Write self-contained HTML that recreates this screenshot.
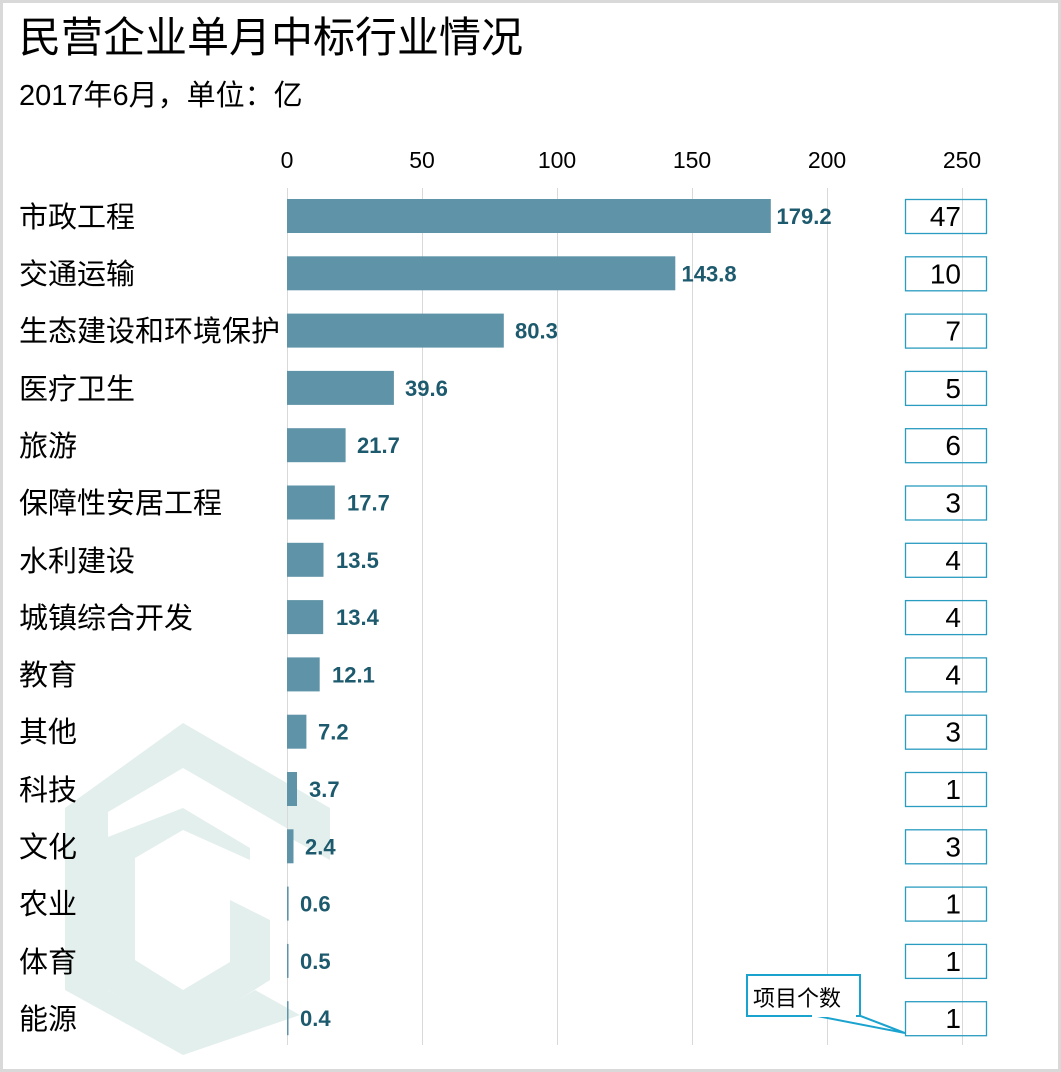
<!DOCTYPE html>
<html><head><meta charset="utf-8"><style>
html,body{margin:0;padding:0;background:#fff}
svg{display:block}
</style></head><body>
<svg width="1061" height="1072" xmlns="http://www.w3.org/2000/svg" font-family="Liberation Sans, Noto Sans CJK SC, sans-serif">
<rect x="1.5" y="1.5" width="1058" height="1069" fill="#fff" stroke="#d9d9d9" stroke-width="3"/>
<g fill="#e3efec">
<polygon points="183,723 330,808 330,860 290,838 290,830 183,768 108,812 108,990 183,1033 255,990 300,1015 183,1055 65,990 65,808"/>
<polygon points="183,808 250,848 250,860 183,830 135,858 135,960 183,990 230,962 230,900 270,920 270,980 183,1035 100,985 100,840"/>
</g>
<text x="19" y="52" font-size="42" fill="#000">民营企业单月中标行业情况</text>
<text x="19" y="105" font-size="29" fill="#000">2017年6月，单位：亿</text>
<g font-size="23" fill="#000" text-anchor="middle">
<text x="287" y="168">0</text><text x="422" y="168">50</text><text x="557" y="168">100</text><text x="692" y="168">150</text><text x="827" y="168">200</text><text x="962" y="168">250</text>
</g>
<g stroke="#d9d9d9" stroke-width="1">
<line x1="287.5" y1="188" x2="287.5" y2="1045"/><line x1="422.5" y1="188" x2="422.5" y2="1045"/><line x1="557.5" y1="188" x2="557.5" y2="1045"/><line x1="692.5" y1="188" x2="692.5" y2="1045"/><line x1="827.5" y1="188" x2="827.5" y2="1045"/><line x1="962.5" y1="188" x2="962.5" y2="1045"/>
</g>
<g font-size="29" fill="#000">
<text x="19" y="227">市政工程</text>
<text x="19" y="284">交通运输</text>
<text x="19" y="341">生态建设和环境保护</text>
<text x="19" y="399">医疗卫生</text>
<text x="19" y="456">旅游</text>
<text x="19" y="513">保障性安居工程</text>
<text x="19" y="571">水利建设</text>
<text x="19" y="628">城镇综合开发</text>
<text x="19" y="685">教育</text>
<text x="19" y="742">其他</text>
<text x="19" y="800">科技</text>
<text x="19" y="857">文化</text>
<text x="19" y="914">农业</text>
<text x="19" y="972">体育</text>
<text x="19" y="1029">能源</text>
</g>
<g fill="#5f93a8">
<rect x="287" y="199" width="483.8" height="34"/>
<rect x="287" y="256.3" width="388.3" height="34"/>
<rect x="287" y="313.6" width="216.8" height="34"/>
<rect x="287" y="370.9" width="106.9" height="34"/>
<rect x="287" y="428.2" width="58.6" height="34"/>
<rect x="287" y="485.5" width="47.8" height="34"/>
<rect x="287" y="542.8" width="36.5" height="34"/>
<rect x="287" y="600.1" width="36.2" height="34"/>
<rect x="287" y="657.4" width="32.7" height="34"/>
<rect x="287" y="714.7" width="19.4" height="34"/>
<rect x="287" y="772" width="10" height="34"/>
<rect x="287" y="829.3" width="6.5" height="34"/>
<rect x="287" y="886.6" width="1.6" height="34"/>
<rect x="287" y="943.9" width="1.5" height="34"/>
<rect x="287" y="1001.2" width="1.5" height="34"/>
</g>
<g font-size="22" font-weight="bold" fill="#1d5a6e">
<text x="776.5" y="224">179.2</text>
<text x="681.5" y="281.3">143.8</text>
<text x="515" y="338.6">80.3</text>
<text x="405" y="395.9">39.6</text>
<text x="357" y="453.2">21.7</text>
<text x="347" y="510.5">17.7</text>
<text x="336" y="567.8">13.5</text>
<text x="336" y="625.1">13.4</text>
<text x="332" y="682.4">12.1</text>
<text x="318" y="739.7">7.2</text>
<text x="309" y="797">3.7</text>
<text x="305" y="854.3">2.4</text>
<text x="300" y="911.6">0.6</text>
<text x="300" y="968.9">0.5</text>
<text x="300" y="1026.2">0.4</text>
</g>
<g fill="none" stroke="#2a9cc0" stroke-width="1.3">
<rect x="905.5" y="199.5" width="81" height="34"/>
<rect x="905.5" y="256.8" width="81" height="34"/>
<rect x="905.5" y="314.1" width="81" height="34"/>
<rect x="905.5" y="371.4" width="81" height="34"/>
<rect x="905.5" y="428.7" width="81" height="34"/>
<rect x="905.5" y="486" width="81" height="34"/>
<rect x="905.5" y="543.3" width="81" height="34"/>
<rect x="905.5" y="600.6" width="81" height="34"/>
<rect x="905.5" y="657.9" width="81" height="34"/>
<rect x="905.5" y="715.2" width="81" height="34"/>
<rect x="905.5" y="772.5" width="81" height="34"/>
<rect x="905.5" y="829.8" width="81" height="34"/>
<rect x="905.5" y="887.1" width="81" height="34"/>
<rect x="905.5" y="944.4" width="81" height="34"/>
<rect x="905.5" y="1001.7" width="81" height="34"/>
</g>
<g font-size="28" fill="#000" text-anchor="end">
<text x="961" y="226">47</text>
<text x="961" y="283.3">10</text>
<text x="961" y="340.6">7</text>
<text x="961" y="397.9">5</text>
<text x="961" y="455.2">6</text>
<text x="961" y="512.5">3</text>
<text x="961" y="569.8">4</text>
<text x="961" y="627.1">4</text>
<text x="961" y="684.4">4</text>
<text x="961" y="741.7">3</text>
<text x="961" y="799">1</text>
<text x="961" y="856.3">3</text>
<text x="961" y="913.6">1</text>
<text x="961" y="970.9">1</text>
<text x="961" y="1028.2">1</text>
</g>
<polygon points="812,1015 858,1015 905,1033" fill="#fff" stroke="#1aa3cf" stroke-width="2"/>
<rect x="747" y="975" width="113" height="41" fill="#fff" stroke="#1aa3cf" stroke-width="2"/>
<rect x="812" y="1013" width="44" height="4" fill="#fff"/>
<text x="753" y="1006" font-size="22" fill="#000">项目个数</text>
</svg>
</body></html>
